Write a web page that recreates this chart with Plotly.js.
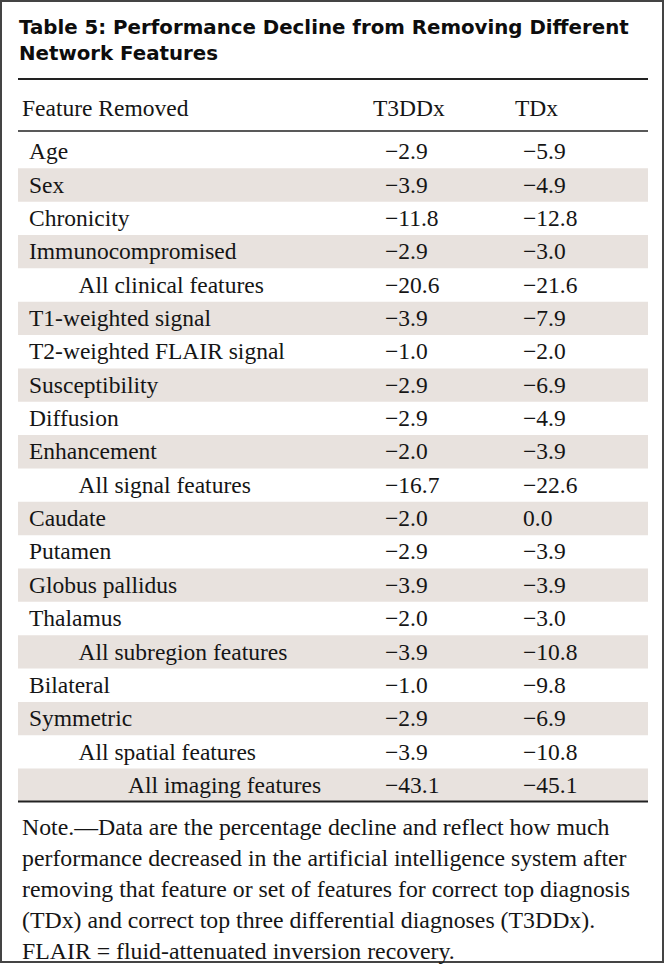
<!DOCTYPE html>
<html>
<head>
<meta charset="utf-8">
<script src="https://cdn.plot.ly/plotly-3.0.1.min.js"></script>
<style>html,body{margin:0;padding:0;background:#fff;}#chart{width:666px;height:964px;}</style>
</head>
<body>
<div id="chart"></div>
<script>
const titleLines = ["Table 5: Performance Decline from Removing Different", "Network Features"];
const headers = ["Feature Removed", "T3DDx", "TDx"];
const features = ["Age","Sex","Chronicity","Immunocompromised","All clinical features",
  "T1-weighted signal","T2-weighted FLAIR signal","Susceptibility","Diffusion","Enhancement",
  "All signal features","Caudate","Putamen","Globus pallidus","Thalamus",
  "All subregion features","Bilateral","Symmetric","All spatial features","All imaging features"];
const levels = [0,0,0,0,1, 0,0,0,0,0, 1,0,0,0,0, 1,0,0,1,2];
const t3ddx = [-2.9,-3.9,-11.8,-2.9,-20.6,-3.9,-1.0,-2.9,-2.9,-2.0,-16.7,-2.0,-2.9,-3.9,-2.0,-3.9,-1.0,-2.9,-3.9,-43.1];
const tdx = [-5.9,-4.9,-12.8,-3.0,-21.6,-7.9,-2.0,-6.9,-4.9,-3.9,-22.6,0.0,-3.9,-3.9,-3.0,-10.8,-9.8,-6.9,-10.8,-45.1];
const noteLines = ["Note.\u2014Data are the percentage decline and reflect how much",
  "performance decreased in the artificial intelligence system after",
  "removing that feature or set of features for correct top diagnosis",
  "(TDx) and correct top three differential diagnoses (T3DDx).",
  "FLAIR = fluid-attenuated inversion recovery."];

// ---- styling / geometry ----
const W = 666, H = 964;
const ROW0 = 153.4, ROWH = 33.35;
const py = p => (p - ROW0) / ROWH;           // pixel row -> y data
const dStripe = 1.8 / ROWH;                  // stripes sit slightly above text centre
const serif = "Liberation Serif";
const bodyFont = {family: serif, size: 23.5, color: "#151515"};
const stripe = "#e8e2de";
const colLabelX = 29, indentStep = 49.5, colAX = 385, colBX = 523;
const fmt = v => (v < 0 ? "\u2212" : "") + Math.abs(v).toFixed(1);
const idx = features.map((_, i) => i);

const traces = [
  {type: "scatter", mode: "text", x: levels.map(l => colLabelX + indentStep * l), y: idx,
   text: features, textposition: "middle right", textfont: bodyFont, hoverinfo: "skip", showlegend: false},
  {type: "scatter", mode: "text", x: idx.map(() => colAX), y: idx,
   text: t3ddx.map(fmt), textposition: "middle right", textfont: bodyFont, hoverinfo: "skip", showlegend: false},
  {type: "scatter", mode: "text", x: idx.map(() => colBX), y: idx,
   text: tdx.map(fmt), textposition: "middle right", textfont: bodyFont, hoverinfo: "skip", showlegend: false}
];

const shapes = [];
idx.forEach(i => {
  if (i % 2 === 1) shapes.push({type: "rect", xref: "x", yref: "y", x0: 18, x1: 648,
    y0: i - 0.5 - dStripe, y1: i + 0.5 - dStripe, fillcolor: stripe, line: {width: 0}, layer: "below"});
});
shapes.push({type: "line", xref: "x", yref: "y", x0: 18, x1: 648, y0: py(79), y1: py(79), line: {color: "#222", width: 2}});
shapes.push({type: "line", xref: "x", yref: "y", x0: 18, x1: 648, y0: py(131), y1: py(131), line: {color: "#222", width: 1.6}});
shapes.push({type: "line", xref: "x", yref: "y", x0: 18, x1: 648, y0: py(801.5), y1: py(801.5), line: {color: "#222", width: 2}});
shapes.push({type: "rect", xref: "paper", yref: "paper", x0: 1/W, x1: 663/W, y0: 1 - 962/H, y1: 1 - 1/H,
  line: {color: "#444", width: 2}, fillcolor: "rgba(0,0,0,0)"});

const annotations = [
  {xref: "paper", yref: "paper", x: 17/W, y: 1 - 41/H, xanchor: "left", yanchor: "middle", align: "left",
   showarrow: false, text: "<b>" + titleLines.join("<br>") + "</b>",
   font: {family: "DejaVu Sans", size: 19.8, color: "#0d0d0d"}},
  {xref: "x", yref: "y", x: 20, y: py(108), xanchor: "left", yanchor: "middle", showarrow: false, text: headers[0], font: bodyFont},
  {xref: "x", yref: "y", x: 371, y: py(108), xanchor: "left", yanchor: "middle", showarrow: false, text: headers[1], font: bodyFont},
  {xref: "x", yref: "y", x: 513, y: py(108), xanchor: "left", yanchor: "middle", showarrow: false, text: headers[2], font: bodyFont},
  {xref: "paper", yref: "paper", x: 20/W, y: 1 - 889/H, xanchor: "left", yanchor: "middle", align: "left",
   showarrow: false, text: noteLines.join("<br>"), font: Object.assign({}, bodyFont, {size: 23.8})}
];

const layout = {
  width: W, height: H, margin: {l: 0, r: 0, t: 0, b: 0},
  paper_bgcolor: "#fff", plot_bgcolor: "rgba(0,0,0,0)",
  xaxis: {range: [0, W], visible: false, fixedrange: true},
  yaxis: {range: [py(H), py(0)], visible: false, fixedrange: true},
  shapes: shapes, annotations: annotations, showlegend: false
};

Plotly.newPlot("chart", traces, layout, {staticPlot: true, displayModeBar: false});
</script>
</body>
</html>
